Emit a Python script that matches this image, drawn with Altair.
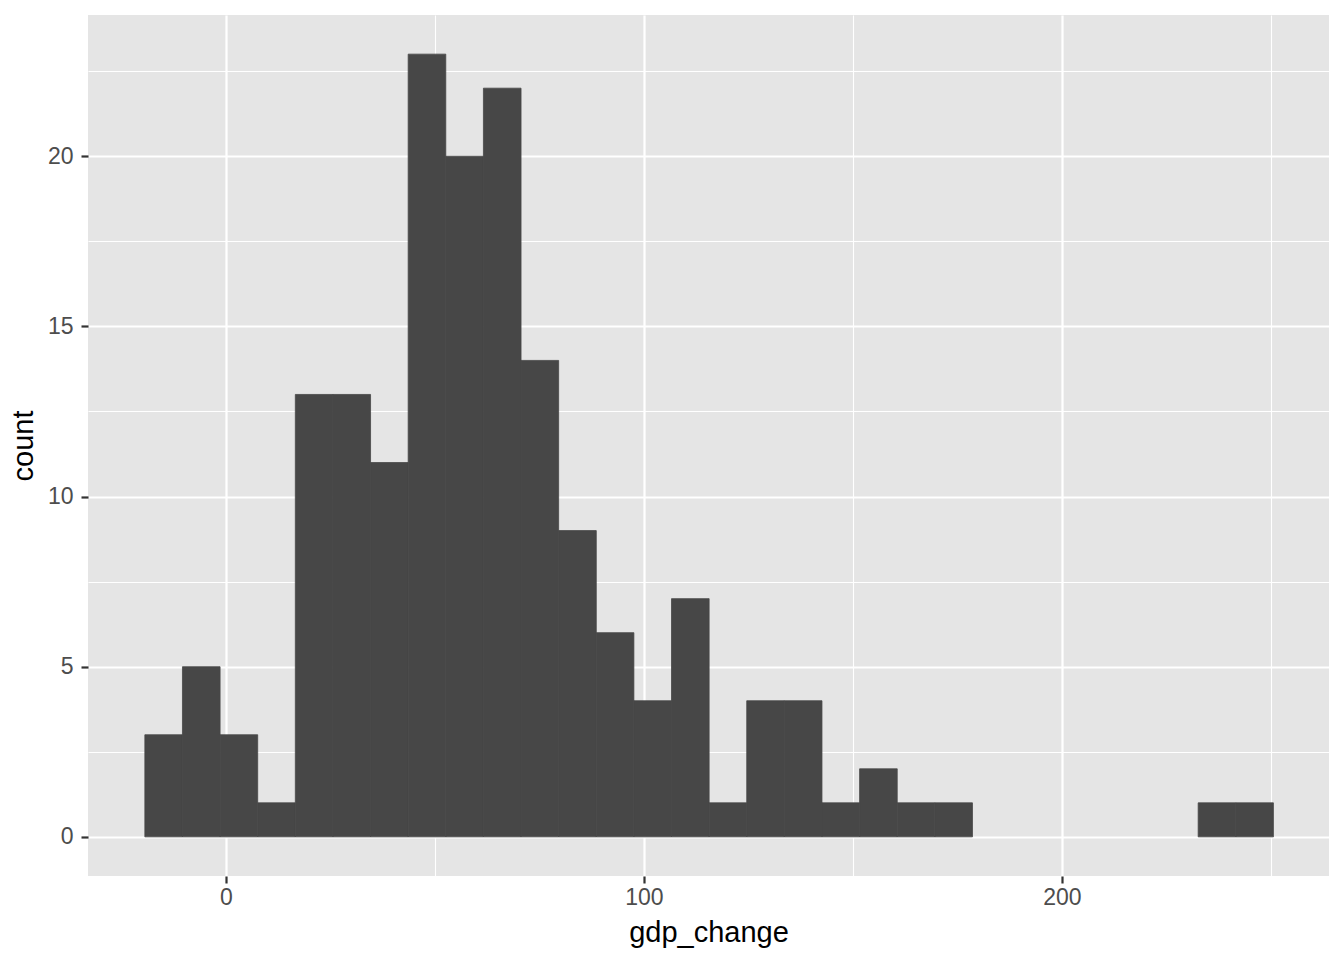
import altair as alt
import pandas as pd

bin_start = [-19.4, -10.4, -1.4, 7.6, 16.6, 25.6, 34.6, 43.6, 52.6, 61.6,
             70.6, 79.6, 88.6, 97.6, 106.6, 115.6, 124.6, 133.6, 142.6, 151.6,
             160.6, 169.6, 178.6, 187.6, 196.6, 205.6, 214.6, 223.6, 232.6, 241.6]
bin_end = [-10.4, -1.4, 7.6, 16.6, 25.6, 34.6, 43.6, 52.6, 61.6, 70.6,
           79.6, 88.6, 97.6, 106.6, 115.6, 124.6, 133.6, 142.6, 151.6, 160.6,
           169.6, 178.6, 187.6, 196.6, 205.6, 214.6, 223.6, 232.6, 241.6, 250.6]
counts = [3, 5, 3, 1, 13, 13, 11, 23, 20, 22,
          14, 9, 6, 4, 7, 1, 4, 4, 1, 2,
          1, 1, 0, 0, 0, 0, 0, 0, 1, 1]

x_ticks = [0, 50, 100, 150, 200, 250]
y_ticks = [0, 2.5, 5, 7.5, 10, 12.5, 15, 17.5, 20, 22.5]

df = pd.DataFrame({"start": bin_start, "end": bin_end, "count": counts})

font = "Liberation Sans"

x_axis = alt.Axis(
    values=x_ticks,
    title="gdp_change",
    grid=True,
    gridColor="white",
    gridWidth={"condition": {"test": "datum.value % 100 !== 0", "value": 1.1}, "value": 2.2},
    tickOpacity={"condition": {"test": "datum.value % 100 !== 0", "value": 0}, "value": 1},
    labelExpr="datum.value % 100 === 0 ? datum.label : ''",
    domain=False,
    tickColor="#333333",
    tickWidth=2.2,
    tickSize=7,
    labelColor="#4D4D4D",
    labelFont=font,
    labelFontSize=23,
    labelPadding=3,
    titleFont=font,
    titleFontSize=29,
    titleFontWeight="normal",
    titleColor="black",
    titlePadding=9,
    zindex=0,
)

y_axis = alt.Axis(
    values=y_ticks,
    title="count",
    grid=True,
    gridColor="white",
    gridWidth={"condition": {"test": "datum.value % 5 !== 0", "value": 1.1}, "value": 2.2},
    tickOpacity={"condition": {"test": "datum.value % 5 !== 0", "value": 0}, "value": 1},
    labelExpr="datum.value % 5 === 0 ? datum.label : ''",
    domain=False,
    tickColor="#333333",
    tickWidth=2.2,
    tickSize=7,
    labelColor="#4D4D4D",
    labelFont=font,
    labelFontSize=23,
    labelPadding=8,
    titleFont=font,
    titleFontSize=29,
    titleFontWeight="normal",
    titleColor="black",
    titlePadding=9,
    zindex=0,
)

chart = alt.Chart(df).transform_filter(
    "datum.count > 0"
).mark_rect(
    color="#474747", stroke="#474747", strokeWidth=0.8,
    opacity=1, fillOpacity=1, strokeOpacity=1,
).encode(
    x=alt.X("start:Q", scale=alt.Scale(domain=[-33.0, 263.9], nice=False, zero=False), axis=x_axis),
    x2="end:Q",
    y=alt.Y("count:Q", scale=alt.Scale(domain=[-1.15, 24.15], nice=False, zero=False), axis=y_axis),
    y2=alt.datum(0),
).properties(
    width=1241,
    height=861,
    autosize=alt.AutoSizeParams(type="none"),
    padding={"left": 80, "top": 7, "right": 7, "bottom": 76},
).configure(
    background="white",
    view=alt.ViewConfig(fill="#E5E5E5", stroke=None),
)

chart.save("out.html", embed_options={"renderer": "svg", "actions": False})
